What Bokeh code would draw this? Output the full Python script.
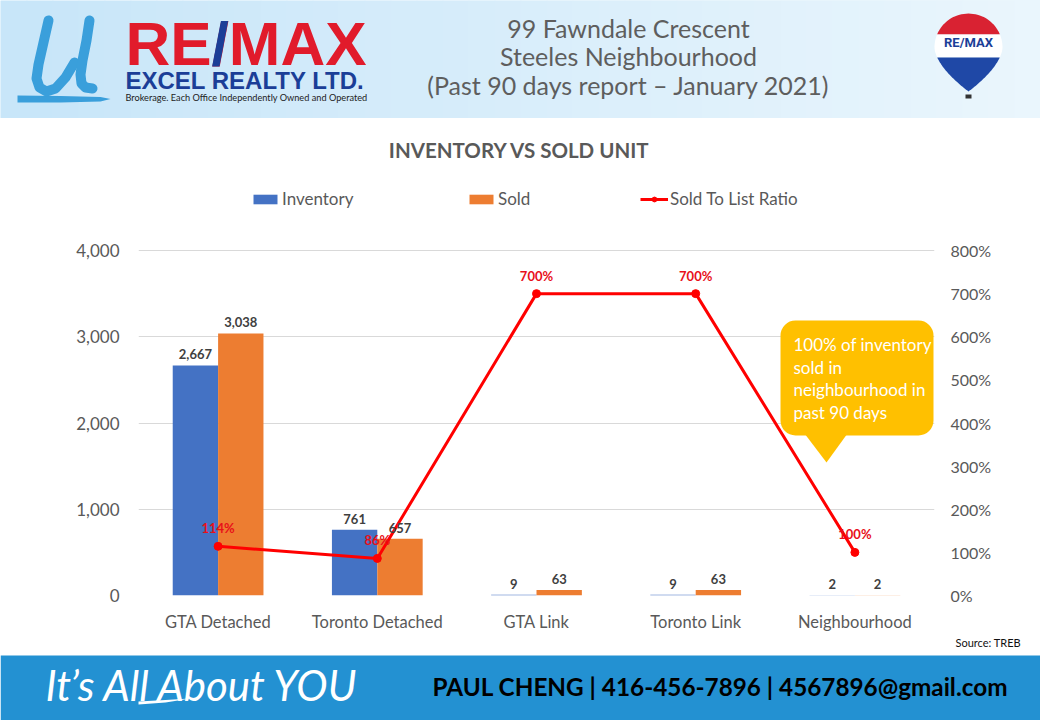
import numpy as np
from bokeh.plotting import figure
from bokeh.layouts import column
from bokeh.models import (ColumnDataSource, FactorRange, Range1d, LinearAxis, FixedTicker,
                          NumeralTickFormatter, PrintfTickFormatter, Legend, LegendItem,
                          Label, BoxAnnotation, PolyAnnotation)
from bokeh.transform import dodge
from bokeh.core.properties import value
from bokeh.embed import file_html
from bokeh.resources import INLINE

# ---------------- data ----------------
categories = ["GTA Detached", "Toronto Detached", "GTA Link", "Toronto Link", "Neighbourhood"]
inventory = [2667, 761, 9, 9, 2]
sold = [3038, 657, 63, 63, 2]
sold_to_list_ratio = [114, 86, 700, 700, 100]
inventory_text = ["2,667", "761", "9", "9", "2"]
sold_text = ["3,038", "657", "63", "63", "2"]
ratio_text = ["114%", "86%", "700%", "700%", "100%"]
left_ticks = [0, 1000, 2000, 3000, 4000]
right_ticks = [0, 100, 200, 300, 400, 500, 600, 700, 800]

FONT = "Lato"
W = 1040
HDR_H, CH_TOP, CH_BOT = 118, 118, 635   # page rows of the three panels
FT_H = 720 - CH_BOT
GREY = "#595959"
RED, BLUE = "#e11b2b", "#1b3e97"
LOGO_FONT = "Liberation Sans"


def plain(fig):
    fig.xgrid.visible = False
    fig.ygrid.visible = False
    return fig


# ================= header =================
hf = plain(figure(width=W, height=HDR_H, x_range=Range1d(0, W), y_range=Range1d(HDR_H, 0),
                  output_backend="svg", toolbar_location=None, min_border=0,
                  x_axis_location=None, y_axis_location=None, outline_line_color=None,
                  frame_align=False,
                  background_fill_color="#d6edfa", border_fill_color="#d6edfa"))
c0, c1 = np.array([0xc8, 0xe6, 0xf9]), np.array([0xea, 0xf6, 0xfd])
NS = 40
lefts = [W * i / NS for i in range(NS)]
rights = [W * (i + 1) / NS + 1 for i in range(NS)]
cols = ["#%02x%02x%02x" % tuple(int(v) for v in (c0 + (c1 - c0) * i / (NS - 1))) for i in range(NS)]
hf.quad(left=lefts, right=rights, top=0, bottom=HDR_H, fill_color=cols, line_color=None)

# U logo (brush strokes)
U_BLUE = "#3a9fdb"
hf.patch([17, 60, 100, 110, 100, 60, 17], [95, 95.5, 96.5, 98.5, 101, 102, 102],
         fill_color=U_BLUE, line_color=None)
hf.multi_line(xs=[[48, 43, 38, 36, 39, 46, 55, 65, 74],
                  [89, 86, 82, 80, 81, 85, 92]],
              ys=[[20, 42, 64, 78, 87, 91, 88, 77, 62],
                  [20, 40, 60, 74, 83, 87, 88]],
              line_color=U_BLUE, line_width=10, line_cap="round", line_join="round")

# RE/MAX wordmark (Arial metrics: "RE" = 1.389 em)
RM_SIZE = 62
hf.add_layout(Label(x=125, y=43, text="RE/MAX", text_font=LOGO_FONT, text_font_style="bold",
                    text_font_size=f"{RM_SIZE}px", text_color=RED, text_align="left",
                    text_baseline="middle"))
hf.add_layout(Label(x=125 + 1.389 * RM_SIZE, y=43, text="/", text_font=LOGO_FONT,
                    text_font_style="bold", text_font_size=f"{RM_SIZE}px", text_color=BLUE,
                    text_align="left", text_baseline="middle"))
hf.add_layout(Label(x=125, y=79.5, text="EXCEL REALTY LTD.", text_font=LOGO_FONT,
                    text_font_style="bold", text_font_size="24px", text_color=BLUE,
                    text_align="left", text_baseline="middle"))
hf.add_layout(Label(x=125, y=97, text="Brokerage. Each Office Independently Owned and Operated",
                    text_font=FONT, text_font_size="9.2px", text_color="#222222",
                    text_align="left", text_baseline="middle"))

# header title
for txt, y in [("99 Fawndale Crescent", 27), ("Steeles Neighbourhood", 55),
               ("(Past 90 days report \u2013 January 2021)", 84)]:
    hf.add_layout(Label(x=628, y=y, text=txt, text_font=FONT, text_font_size="25px",
                        text_color="#5e5e5e", text_align="center", text_baseline="middle"))

# balloon
BX, YC, R = 968, 47, 34


def half_w(y):
    if y <= YC:
        return np.sqrt(max(R ** 2 - (YC - y) ** 2, 0))
    t = (y - YC) / 44.0
    return R * max(1 - t ** 1.7, 0)


def band(y0, y1):
    ys = np.linspace(y0, y1, 30)
    ws = np.array([half_w(v) for v in ys])
    return np.concatenate([BX - ws, (BX + ws)[::-1]]), np.concatenate([ys, ys[::-1]])


for (y0, y1, col) in [(13, 34, "#d92232"), (34, 57, "#ffffff"), (57, 91, "#1f48a6")]:
    xs, ys = band(y0, y1)
    hf.patch(xs, ys, fill_color=col, line_color=None)
hf.quad(left=965, right=971, top=94, bottom=98, fill_color="#333333", line_color=None)
hf.add_layout(Label(x=968, y=42, text="RE/MAX", text_font="Roboto", text_font_style="bold",
                    text_font_size="13px", text_color=BLUE, text_align="center",
                    text_baseline="middle"))

# ================= chart =================
src = ColumnDataSource(dict(cat=categories, inv=inventory, sold=sold, ratio=sold_to_list_ratio,
                            inv_t=inventory_text, sold_t=sold_text, ratio_t=ratio_text))

FR_L, FR_R, FR_B, GRID_TOP = 138, 934, 595, 250
scale = (FR_B - CH_TOP) / (FR_B - GRID_TOP)
p = figure(x_range=FactorRange(factors=categories), y_range=Range1d(0, 4000 * scale),
           width=W, height=CH_BOT - CH_TOP, output_backend="svg", toolbar_location=None,
           title=None, min_border_left=FR_L, min_border_right=W - FR_R, min_border_top=0,
           min_border_bottom=CH_BOT - FR_B, background_fill_color="white",
           border_fill_color="white", frame_align=False)
p.outline_line_color = None
p.extra_y_ranges = {"ratio": Range1d(0, 800 * scale)}

p.yaxis.ticker = FixedTicker(ticks=left_ticks)
p.yaxis.formatter = NumeralTickFormatter(format="0,0")
ax_r = LinearAxis(y_range_name="ratio", ticker=FixedTicker(ticks=right_ticks),
                  formatter=PrintfTickFormatter(format="%d%%"))
p.add_layout(ax_r, "right")
for ax in [p.yaxis[0], ax_r, p.xaxis[0]]:
    ax.axis_line_color = None
    ax.major_tick_line_color = None
    ax.minor_tick_line_color = None
    ax.major_label_text_font = FONT
    ax.major_label_text_font_size = "17px"
    ax.major_label_text_color = GREY
p.xaxis[0].major_label_text_font_size = "16.5px"
ax_r.major_label_text_font_size = "16px"
p.yaxis[0].major_label_standoff = 13
ax_r.major_label_standoff = 10
p.xaxis[0].major_label_standoff = 10
p.xgrid.grid_line_color = None
p.ygrid.ticker = FixedTicker(ticks=left_ticks)
p.ygrid.grid_line_color = "#d9d9d9"


def ccx(x):
    return x


def ccy(y):
    return y - CH_TOP


# chart title
p.add_layout(Label(x=ccx(519), y=ccy(149), x_units="canvas", y_units="canvas",
                   text="INVENTORY VS SOLD UNIT", text_font=FONT, text_font_style="bold",
                   text_font_size="20.5px", text_color=GREY, text_align="center",
                   text_baseline="middle"))

C_INV, C_SOLD, C_RATIO = "#4472c4", "#ed7d31", "#ff0000"
r_inv = p.vbar(x=dodge("cat", -0.1425, range=p.x_range), top="inv", width=0.285, source=src,
               fill_color=C_INV, line_color=None)
r_sold = p.vbar(x=dodge("cat", 0.1425, range=p.x_range), top="sold", width=0.285, source=src,
                fill_color=C_SOLD, line_color=None)
r_line = p.line(x="cat", y="ratio", source=src, y_range_name="ratio", line_color=C_RATIO,
                line_width=3)
r_dot = p.scatter(x="cat", y="ratio", source=src, y_range_name="ratio", size=8,
                  fill_color=C_RATIO, line_color=C_RATIO)

LBL = "#404040"
p.text(x=dodge("cat", -0.1425, range=p.x_range), y="inv", text="inv_t", source=src,
       text_font=value(FONT), text_font_style="bold", text_font_size="13px", text_color=LBL,
       text_align="center", text_baseline="bottom", y_offset=-6)
p.text(x=dodge("cat", 0.1425, range=p.x_range), y="sold", text="sold_t", source=src,
       text_font=value(FONT), text_font_style="bold", text_font_size="13px", text_color=LBL,
       text_align="center", text_baseline="bottom", y_offset=-6)
p.text(x="cat", y="ratio", text="ratio_t", source=src, y_range_name="ratio",
       text_font=value(FONT), text_font_style="bold", text_font_size="13px",
       text_color="#e8101a", text_align="center", text_baseline="bottom", y_offset=-10)

# legends (one per item, to match the reference spacing)
for item, (lx, gw) in [(LegendItem(label="Inventory", renderers=[r_inv]), (250, 30)),
                       (LegendItem(label="Sold", renderers=[r_sold]), (466, 30)),
                       (LegendItem(label="Sold To List Ratio", renderers=[r_line, r_dot]), (640, 28))]:
    lg = Legend(items=[item], orientation="horizontal", location=(lx - FR_L, FR_B - 209),
                glyph_width=gw, glyph_height=12, label_standoff=2, padding=0, margin=0,
                label_text_font=FONT, label_text_font_size="17px", label_text_color=GREY,
                border_line_color=None, background_fill_alpha=0)
    p.add_layout(lg, "center")

# callout
CALL = "#ffc000"
p.add_layout(BoxAnnotation(left=ccx(780), right=ccx(933), top=ccy(320), bottom=ccy(435),
                           left_units="canvas", right_units="canvas", top_units="canvas",
                           bottom_units="canvas", fill_color=CALL, fill_alpha=1,
                           line_color=None, border_radius=15))
p.add_layout(PolyAnnotation(xs=[ccx(804), ccx(847), ccx(826)],
                            ys=[ccy(433), ccy(433), ccy(462)],
                            xs_units="canvas", ys_units="canvas", fill_color=CALL,
                            fill_alpha=1, line_color=None))
for txt, y in [("100% of inventory", 344), ("sold in", 367), ("neighbourhood in", 389),
               ("past 90 days", 412)]:
    p.add_layout(Label(x=ccx(793), y=ccy(y), x_units="canvas", y_units="canvas", text=txt,
                       text_font=FONT, text_font_size="17px", text_color="white",
                       text_align="left", text_baseline="middle"))

# ================= footer =================
ff = plain(figure(width=W, height=FT_H, x_range=Range1d(0, W), y_range=Range1d(720, CH_BOT),
                  output_backend="svg", toolbar_location=None, min_border=0,
                  x_axis_location=None, y_axis_location=None, outline_line_color=None,
                  frame_align=False,
                  background_fill_color="white", border_fill_color="white"))
ff.quad(left=0, right=W, top=655, bottom=720, fill_color="#2391d2", line_color=None)
ff.patch([138, 165, 190, 165, 138], [701, 699.5, 698, 702, 704],
         fill_color="white", line_color=None)
ff.add_layout(Label(x=955, y=642, text="Source: TREB", text_font=FONT, text_font_size="11px",
                    text_color="#111111", text_align="left", text_baseline="middle"))
ff.add_layout(Label(x=45, y=684, text="It\u2019s All About YOU", text_font=FONT,
                    text_font_style="italic", text_font_size="42px", text_color="white",
                    text_align="left", text_baseline="middle"))
ff.add_layout(Label(x=432, y=686, text="PAUL CHENG | 416-456-7896 | 4567896@gmail.com",
                    text_font=FONT, text_font_style="bold", text_font_size="24.3px",
                    text_color="#000000", text_align="left", text_baseline="middle"))

page = column(hf, p, ff, spacing=0)
open("out.html", "w").write(file_html(page, INLINE))
